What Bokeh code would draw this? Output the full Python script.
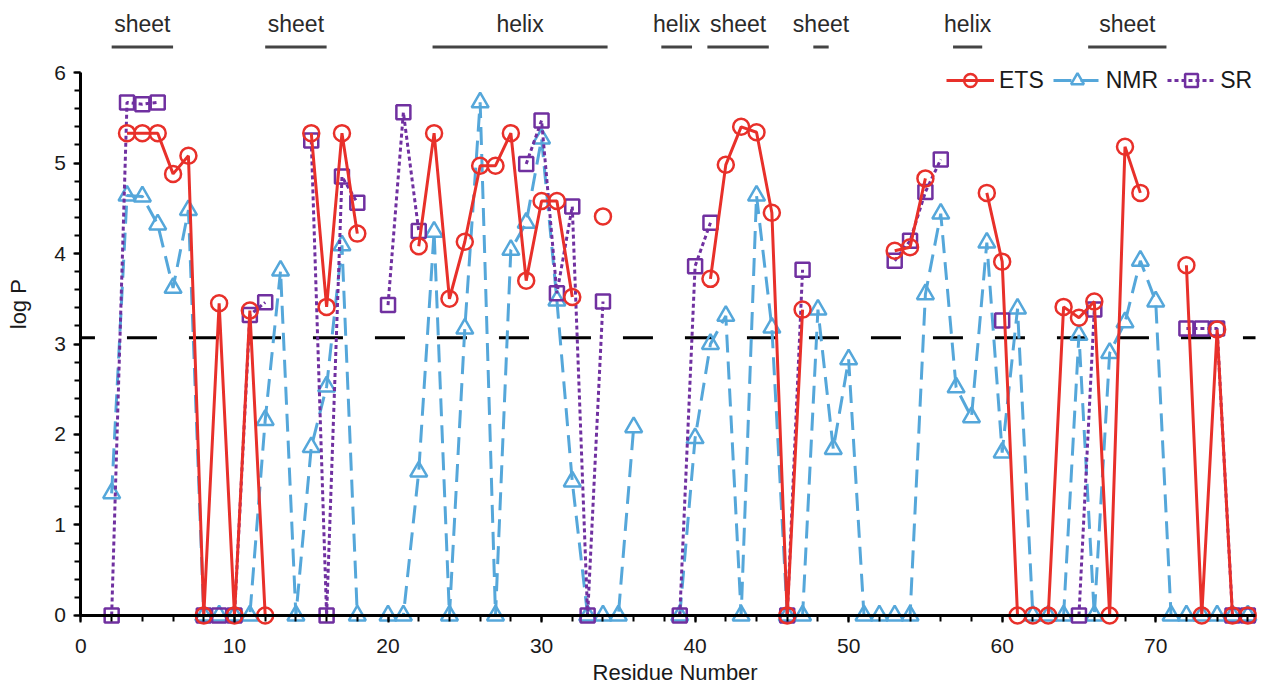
import math
from bokeh.plotting import figure
from bokeh.models import Legend, LegendItem, SingleIntervalTicker, Range1d
from bokeh.core.properties import value
from bokeh.embed import file_html
from bokeh.resources import INLINE

nan = float("nan")

residues = list(range(2, 77))

ets = [nan, 5.33, 5.33, 5.33, 4.88, 5.08, 0, 3.45, 0, 3.37,        # 2-11
       0, nan, nan, 5.33, 3.41, 5.33, 4.22, nan, nan, nan,          # 12-21
       4.08, 5.33, 3.50, 4.13, 4.97, 4.97, 5.33, 3.70, 4.58, 4.58,  # 22-31
       3.52, nan, 4.41, nan, nan, nan, nan, nan, nan, 3.72,         # 32-41
       4.98, 5.40, 5.34, 4.45, 0, 3.38, nan, nan, nan, nan,         # 42-51
       nan, 4.03, 4.07, 4.83, nan, nan, nan, 4.67, 3.91, 0,         # 52-61
       0, 0, 3.41, 3.29, 3.47, 0, 5.18, 4.67, nan, nan,             # 62-71
       3.87, 0, 3.16, 0, 0]                                         # 72-76

nmr = [1.35, 4.64, 4.63, 4.32, 3.62, 4.48, 0, 0, 0, 0,              # 2-11
       2.16, 3.81, 0, 1.86, 2.53, 4.09, 0, nan, 0, 0,               # 12-21
       1.59, 4.24, 0, 3.17, 5.67, 0, 4.04, 4.34, 5.27, 3.48,        # 22-31
       1.48, 0, 0, 0, 2.08, nan, nan, 0, 1.96, 3.00,                # 32-41
       3.31, 0, 4.64, 3.18, 0, 0, 3.38, 1.84, 2.83, 0,              # 42-51
       0, 0, 0, 3.55, 4.44, 2.52, 2.19, 4.12, 1.80, 3.39,           # 52-61
       0, 0, 0, 3.10, 0, 2.90, 3.24, 3.92, 3.47, 0,                 # 62-71
       0, 0, 0, 0, 0]                                               # 72-76

sr = [0, 5.67, 5.65, 5.67, nan, nan, 0, 0, 0, 3.32,                 # 2-11
      3.46, nan, nan, 5.25, 0, 4.85, 4.56, nan, 3.43, 5.56,         # 12-21
      4.25, nan, nan, nan, nan, nan, nan, 4.99, 5.47, 3.56,         # 22-31
      4.52, 0, 3.47, nan, nan, nan, nan, 0, 3.86, 4.34,             # 32-41
      nan, nan, nan, nan, 0, 3.82, nan, nan, nan, nan,              # 42-51
      nan, 3.92, 4.14, 4.68, 5.04, nan, nan, nan, 3.26, nan,        # 52-61
      nan, nan, nan, 0, 3.38, nan, nan, nan, nan, nan,              # 62-71
      3.17, 3.17, 3.17, 0, 0]                                       # 72-76

threshold = 3.07

ss_labels = ["sheet", "sheet", "helix", "helix", "sheet", "sheet", "helix", "sheet"]
ss_start = [2.0, 12.0, 22.9, 37.8, 40.8, 47.7, 56.8, 65.6]
ss_end = [6.0, 16.0, 34.3, 39.8, 44.8, 48.7, 58.7, 70.7]

RED = "#E8302A"
BLUE = "#55A7DA"
PURPLE = "#7030A0"
FONT = "Liberation Sans"
TXT = "#1a1a1a"

X_LO, X_HI = 0, 76.5      # axis extent
Y_LO, Y_HI = 0, 6

p = figure(width=1261, height=687, output_backend="svg", toolbar_location=None,
           x_range=Range1d(-5.24, 76.89), y_range=Range1d(-0.796, 6.796),
           min_border_left=0, min_border_right=0, min_border_top=0,
           min_border_bottom=0)
p.outline_line_color = None
p.xgrid.visible = False
p.ygrid.visible = False
p.background_fill_color = "white"
p.border_fill_color = "white"

xa = p.xaxis[0]
xa.fixed_location = 0
xa.bounds = (X_LO, X_HI)
xa.ticker = SingleIntervalTicker(interval=10, num_minor_ticks=5)
ya = p.yaxis[0]
ya.fixed_location = 0
ya.bounds = (Y_LO, Y_HI)
ya.ticker = SingleIntervalTicker(interval=1, num_minor_ticks=5)
for ax in (xa, ya):
    ax.axis_line_width = 3
    ax.axis_line_color = "black"
    ax.major_tick_line_width = 2
    ax.minor_tick_line_width = 2
    ax.major_tick_line_color = "black"
    ax.minor_tick_line_color = "black"
    ax.major_tick_in = 0
    ax.minor_tick_in = 0
    ax.major_tick_out = 7
    ax.minor_tick_out = 6
    ax.major_label_text_font = FONT
    ax.major_label_text_font_size = "21px"
    ax.major_label_text_color = TXT
xa.major_label_standoff = 17
ya.major_label_standoff = 8

# axis titles
p.text(x=[38.7], y=[-0.63], text=["Residue Number"], text_align="center",
       text_baseline="alphabetic", text_font=value(FONT),
       text_font_size="22px", text_color=TXT)
p.text(x=[-4.07], y=[3.44], text=["log P"], angle=math.pi / 2,
       text_align="center", text_baseline="alphabetic", text_font=value(FONT),
       text_font_size="22px", text_color=TXT)

# threshold line
p.segment(x0=[X_LO], y0=[threshold], x1=[X_HI], y1=[threshold],
          line_color="black", line_width=3, line_dash="30 32",
          line_dash_offset=16)

# series
nmr_line = p.line(residues, nmr, line_color=BLUE, line_width=3, line_dash="18 9")
nmr_pts = p.scatter(residues, nmr, marker="triangle", size=17, line_color=BLUE,
                    line_width=2.5, fill_color=None)
sr_line = p.line(residues, sr, line_color=PURPLE, line_width=3, line_dash="4 3")
sr_pts = p.scatter(residues, sr, marker="square", size=14, line_color=PURPLE,
                   line_width=2.5, fill_color=None)
ets_line = p.line(residues, ets, line_color=RED, line_width=3)
ets_pts = p.scatter(residues, ets, marker="circle", size=16, line_color=RED,
                    line_width=2.5, fill_color=None)

# secondary structure annotations above the plot
ann_line_y = 6.282
ann_text_y = 6.54
ss_mid = [(a + b) / 2 for a, b in zip(ss_start, ss_end)]
p.segment(x0=ss_start, y0=[ann_line_y] * len(ss_start), x1=ss_end,
          y1=[ann_line_y] * len(ss_end), line_color="#444444", line_width=3)
p.text(x=ss_mid, y=[ann_text_y] * len(ss_mid), text=ss_labels,
       text_align="center", text_baseline="alphabetic",
       text_font=value(FONT), text_font_size="23px", text_color="#2a2a2a")

legend = Legend(items=[
    LegendItem(label="ETS", renderers=[ets_line, ets_pts]),
    LegendItem(label="NMR", renderers=[nmr_line, nmr_pts]),
    LegendItem(label="SR", renderers=[sr_line, sr_pts]),
], location=(946, 591), orientation="horizontal")
legend.label_text_font = FONT
legend.label_text_font_size = "23px"
legend.label_text_color = TXT
legend.glyph_width = 48
legend.glyph_height = 32
legend.label_standoff = 5
legend.spacing = 9
legend.padding = 0
legend.margin = 0
legend.border_line_color = None
legend.background_fill_alpha = 0
p.add_layout(legend, "center")

open("out.html", "w").write(file_html(p, INLINE))
